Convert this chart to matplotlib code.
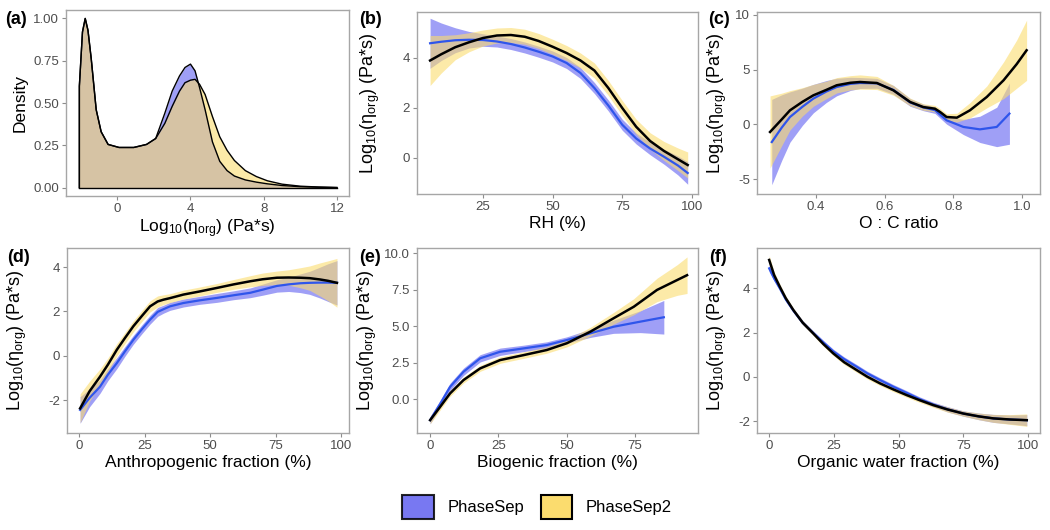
import numpy as np
import matplotlib
matplotlib.use("Agg")
import matplotlib.pyplot as plt
from matplotlib.patches import Patch

plt.rcParams.update({
    "font.family": ["Liberation Sans", "DejaVu Sans"],
    "mathtext.default": "regular",
    "axes.unicode_minus": False,
    "font.size": 11})

BLUE_FILL = "#6060F0"
YELLOW_FILL = "#FBDC6E"
BLUE_LINE = "#2F55EB"
TICK_GREY = "#4D4D4D"
YLAB = r"Log$_{10}$(η$_{org}$) (Pa*s)"

# (a) density of log10 viscosity
dens_x = [-2.07, -1.9, -1.75, -1.6, -1.42, -1.15, -0.88, -0.5, 0.1, 0.9, 1.6, 2.1,
          2.6, 3.0, 3.4, 3.7, 4.0, 4.25, 4.5, 4.8, 5.2, 5.6, 6.0, 6.4, 7.0, 7.6,
          8.2, 9.0, 10.0, 11.0, 12.0]
dens_ps = [0.60, 0.92, 1.00, 0.93, 0.76, 0.46, 0.33, 0.255, 0.237, 0.237, 0.255, 0.29,
           0.44, 0.57, 0.66, 0.71, 0.73, 0.69, 0.59, 0.46, 0.27, 0.155, 0.10, 0.068, 0.045, 0.032,
           0.022, 0.012, 0.005, 0.002, 0.0]
dens_ps2 = [0.60, 0.92, 1.00, 0.93, 0.76, 0.46, 0.33, 0.255, 0.237, 0.237, 0.255, 0.29,
            0.38, 0.48, 0.57, 0.62, 0.635, 0.64, 0.61, 0.55, 0.42, 0.30, 0.22, 0.16, 0.10, 0.065,
            0.04, 0.02, 0.008, 0.003, 0.0]

# (b) RH
rh_x = [6, 10, 15, 20, 25, 30, 35, 40, 45, 50, 55, 60, 65, 70, 75, 80, 85, 90, 95, 98.5]
rh_ps = [4.59, 4.65, 4.71, 4.73, 4.72, 4.66, 4.56, 4.42, 4.25, 4.06, 3.8, 3.4, 2.8, 2.1,
         1.33, 0.78, 0.38, 0.05, -0.3, -0.6]
rh_ps_se = [1.0, 0.75, 0.5, 0.33, 0.25, 0.22, 0.22, 0.22, 0.22, 0.22, 0.22, 0.22, 0.22,
            0.22, 0.22, 0.22, 0.25, 0.3, 0.38, 0.45]
rh_ps2 = [3.9, 4.15, 4.43, 4.63, 4.8, 4.9, 4.92, 4.85, 4.68, 4.45, 4.2, 3.9, 3.5, 2.8,
          2.0, 1.25, 0.68, 0.28, -0.05, -0.28]
rh_ps2_se = [1.0, 0.75, 0.5, 0.38, 0.32, 0.3, 0.3, 0.3, 0.3, 0.3, 0.3, 0.3, 0.3, 0.3,
             0.3, 0.3, 0.33, 0.38, 0.45, 0.52]

# (c) O:C ratio
oc_ps_x = [0.271, 0.30, 0.324, 0.36, 0.392, 0.43, 0.46, 0.50, 0.528, 0.577, 0.625, 0.674,
           0.712, 0.746, 0.78, 0.829, 0.877, 0.926, 0.963]
oc_ps = [-1.62, -0.3, 0.67, 1.6, 2.35, 3.0, 3.41, 3.7, 3.78, 3.75, 3.15, 2.0,
         1.55, 1.3, 0.37, -0.24, -0.46, -0.24, 0.98]
oc_ps_se = [3.9, 3.0, 2.3, 1.7, 1.3, 1.0, 0.8, 0.6, 0.5, 0.45, 0.4, 0.35,
            0.3, 0.3, 0.35, 0.7, 1.2, 1.8, 2.8]
oc_ps2_x = [0.266, 0.30, 0.324, 0.36, 0.392, 0.43, 0.46, 0.50, 0.528, 0.577, 0.625, 0.674,
            0.712, 0.746, 0.761, 0.78, 0.81, 0.848, 0.897, 0.946, 0.984, 1.013]
oc_ps2 = [-0.70, 0.45, 1.28, 2.05, 2.65, 3.15, 3.57, 3.8, 3.87, 3.78, 3.11, 2.04,
          1.58, 1.43, 1.13, 0.67, 0.61, 1.28, 2.5, 4.03, 5.5, 6.77]
oc_ps2_se = [3.3, 2.4, 1.8, 1.3, 1.0, 0.8, 0.7, 0.65, 0.65, 0.6, 0.45, 0.35,
             0.3, 0.3, 0.3, 0.3, 0.4, 0.7, 1.0, 1.68, 2.2, 2.75]

# (d) anthropogenic fraction
anth_x = [0.4, 4, 8, 11, 14.4, 17.5, 20.7, 24, 27.1, 30, 32.2, 34.7, 39.8, 46, 52.6, 59,
          65.3, 70, 75.5, 80, 84.4, 88, 92, 95, 98.4]
anth_ps = [-2.44, -1.9, -1.39, -0.85, -0.33, 0.2, 0.72, 1.2, 1.63, 1.98, 2.1, 2.23, 2.38,
           2.5, 2.61, 2.73, 2.84, 2.98, 3.15, 3.22, 3.27, 3.29, 3.3, 3.3, 3.29]
anth_ps_se = [0.6, 0.4, 0.3, 0.27, 0.25, 0.22, 0.2, 0.2, 0.2, 0.2, 0.18, 0.18, 0.18, 0.18,
              0.2, 0.2, 0.22, 0.25, 0.28, 0.32, 0.42, 0.52, 0.7, 0.85, 1.0]
anth_ps2 = [-2.37, -1.6, -0.94, -0.4, 0.27, 0.8, 1.33, 1.8, 2.23, 2.45, 2.53, 2.6, 2.76,
            2.9, 3.06, 3.22, 3.36, 3.45, 3.52, 3.53, 3.52, 3.5, 3.44, 3.38, 3.29]
anth_ps2_se = [0.65, 0.45, 0.35, 0.3, 0.28, 0.25, 0.25, 0.25, 0.25, 0.25, 0.22, 0.2, 0.2,
               0.2, 0.2, 0.22, 0.25, 0.28, 0.3, 0.35, 0.45, 0.55, 0.75, 0.9, 1.1]

# (e) biogenic fraction
bio_ps_x = [0, 3.7, 7.3, 12.2, 18.3, 25.6, 34.2, 42.7, 50, 58.6, 67.1, 76.9, 85.5]
bio_ps = [-1.42, -0.3, 0.86, 1.89, 2.81, 3.26, 3.49, 3.72, 4.06, 4.52, 4.97, 5.32, 5.62]
bio_ps_se = [0.25, 0.25, 0.25, 0.25, 0.25, 0.25, 0.22, 0.22, 0.22, 0.28, 0.45, 0.75, 1.15]
bio_ps2_x = [0, 3.7, 7.3, 12.2, 18.3, 25.6, 34.2, 42.7, 50, 58.6, 67.1, 74.5, 83, 90.4, 94]
bio_ps2 = [-1.42, -0.5, 0.41, 1.32, 2.12, 2.69, 3.03, 3.38, 3.84, 4.63, 5.55, 6.34, 7.49,
           8.17, 8.5]
bio_ps2_se = [0.25, 0.22, 0.2, 0.2, 0.2, 0.22, 0.22, 0.22, 0.25, 0.3, 0.4, 0.55, 0.8,
              1.05, 1.25]

# (f) organic water fraction
owf_x = [0.1, 2, 4.2, 6.5, 9.4, 13, 17.1, 21, 24.8, 29, 33.9, 38, 42.9, 48, 53.2, 58,
         63.4, 69, 75, 81, 86.6, 93, 99.5]
owf_ps = [4.9, 4.45, 4.0, 3.5, 3.0, 2.45, 1.98, 1.55, 1.15, 0.8, 0.45, 0.15, -0.15, -0.45,
          -0.73, -1.0, -1.25, -1.47, -1.66, -1.79, -1.88, -1.93, -1.96]
owf_ps_se = [0.15, 0.12, 0.1, 0.1, 0.1, 0.1, 0.1, 0.1, 0.1, 0.1, 0.1, 0.1, 0.1, 0.1, 0.1,
             0.1, 0.1, 0.12, 0.12, 0.15, 0.18, 0.2, 0.25]
owf_ps2 = [5.28, 4.6, 4.07, 3.55, 3.02, 2.45, 1.96, 1.48, 1.06, 0.66, 0.30, 0.0, -0.30,
           -0.57, -0.83, -1.05, -1.28, -1.48, -1.66, -1.79, -1.88, -1.93, -1.96]
owf_ps2_se = [0.2, 0.15, 0.12, 0.1, 0.1, 0.1, 0.1, 0.1, 0.1, 0.1, 0.1, 0.1, 0.1, 0.1, 0.1,
              0.1, 0.1, 0.12, 0.12, 0.15, 0.18, 0.22, 0.28]


def px_axes(fig, x0, y0, x1, y1):
    W, H = 1050, 530
    return fig.add_axes([x0 / W, 1 - y1 / H, (x1 - x0) / W, (y1 - y0) / H])


def style(ax, xlabel, ylabel, xlim, ylim, xticks, yticks, xfmt, yfmt, ylab_x, ysize=13):
    ax.set_xlim(xlim)
    ax.set_ylim(ylim)
    ax.set_xticks(xticks, [xfmt.format(v) for v in xticks])
    ax.set_yticks(yticks, [yfmt.format(v) for v in yticks])
    for s in ax.spines.values():
        s.set_color("#A6A6A6")
        s.set_linewidth(1.0)
    ax.tick_params(colors="#8C8C8C", labelcolor=TICK_GREY, labelsize=9.5,
                   length=3, width=0.8, pad=2)
    ax.set_xlabel(xlabel, fontsize=12.5, labelpad=2)
    ax.set_ylabel(ylabel, fontsize=ysize)
    ax.yaxis.set_label_coords(ylab_x, 0.5)


def panel(ax, x1, y1, se1, x2, y2, se2):
    x1_arr = np.asarray(x1)
    x2_arr = np.asarray(x2)
    ax.fill_between(x1_arr, np.asarray(y1) - se1, np.asarray(y1) + se1,
                    color=BLUE_FILL, alpha=0.6, linewidth=0)
    ax.plot(x1_arr, y1, color=BLUE_LINE, linewidth=1.6)
    ax.fill_between(x2_arr, np.asarray(y2) - se2, np.asarray(y2) + se2,
                    color=YELLOW_FILL, alpha=0.6, linewidth=0)
    ax.plot(x2_arr, y2, color="black", linewidth=1.8)


def plot(plot_file: str) -> None:
    fig = plt.figure(figsize=(10.5, 5.3), dpi=100)

    # (a)
    ax = px_axes(fig, 66, 10, 349, 196)
    x = np.asarray(dens_x)
    ax.fill_between(x, 0, dens_ps, color=BLUE_FILL, alpha=0.6, linewidth=0)
    ax.plot(np.r_[x[0], x, x[-1]], np.r_[0, dens_ps, 0], color="black", lw=1.0)
    ax.fill_between(x, 0, dens_ps2, color=YELLOW_FILL, alpha=0.6, linewidth=0)
    ax.plot(np.r_[x[0], x, x[-1]], np.r_[0, dens_ps2, 0], color="black", lw=1.0)
    ax.plot([x[0], x[-1]], [0, 0], color="black", lw=1.0)
    style(ax, YLAB, "Density", (-2.8, 12.66), (-0.05, 1.05), [0, 4, 8, 12],
          [0, 0.25, 0.5, 0.75, 1.0], "{:g}", "{:.2f}", -0.134, ysize=12.5)

    # (b)
    ax = px_axes(fig, 417, 12, 698, 194)
    panel(ax, rh_x, rh_ps, rh_ps_se, rh_x, rh_ps2, rh_ps2_se)
    style(ax, "RH (%)", YLAB, (1.3, 102.2), (-1.44, 5.84), [25, 50, 75, 100],
          [0, 2, 4], "{:g}", "{:g}", -0.125)

    # (c)
    ax = px_axes(fig, 757, 12, 1040, 194)
    panel(ax, oc_ps_x, oc_ps, oc_ps_se, oc_ps2_x, oc_ps2, oc_ps2_se)
    style(ax, "O : C ratio", YLAB, (0.228, 1.052), (-6.37, 10.27), [0.4, 0.6, 0.8, 1.0],
          [-5, 0, 5, 10], "{:.1f}", "{:g}", -0.1)

    # (d)
    ax = px_axes(fig, 67, 248, 349, 433)
    panel(ax, anth_x, anth_ps, anth_ps_se, anth_x, anth_ps2, anth_ps2_se)
    style(ax, "Anthropogenic fraction (%)", YLAB, (-4.6, 103), (-3.48, 4.86),
          [0, 25, 50, 75, 100], [-2, 0, 2, 4], "{:g}", "{:g}", -0.135)

    # (e)
    ax = px_axes(fig, 417, 248, 698, 433)
    panel(ax, bio_ps_x, bio_ps, bio_ps_se, bio_ps2_x, bio_ps2, bio_ps2_se)
    style(ax, "Biogenic fraction (%)", YLAB, (-4.8, 98), (-2.3, 10.36),
          [0, 25, 50, 75], [0, 2.5, 5, 7.5, 10], "{:g}", "{:.1f}", -0.135)

    # (f)
    ax = px_axes(fig, 757, 248, 1040, 433)
    panel(ax, owf_x, owf_ps, owf_ps_se, owf_x, owf_ps2, owf_ps2_se)
    style(ax, "Organic water fraction (%)", YLAB, (-4.6, 104.6), (-2.54, 5.82),
          [0, 25, 50, 75, 100], [-2, 0, 2, 4], "{:g}", "{:g}", -0.1)

    for lab, (px, py) in zip("abcdef", [(5, 19), (359, 20), (708, 20),
                                        (7, 257), (359, 257), (709, 257)]):
        fig.text(px / 1050, 1 - py / 530, f"({lab})", fontsize=13,
                 fontweight="bold", ha="left", va="center")

    handles = [Patch(facecolor=BLUE_FILL, alpha=0.85, edgecolor="black", linewidth=1.5),
               Patch(facecolor=YELLOW_FILL, alpha=1.0, edgecolor="black", linewidth=1.5)]
    leg = fig.legend(handles, ["PhaseSep", "PhaseSep2"], loc="center",
                     bbox_to_anchor=(537 / 1050, 1 - 507 / 530), ncol=2, frameon=False,
                     fontsize=12, handlelength=1.9, handleheight=1.9,
                     handletextpad=0.8, columnspacing=1.0)
    for h in leg.legend_handles:
        h.set_edgecolor("black")

    fig.savefig(plot_file, dpi=100)
    plt.close(fig)


def main() -> None:
    plot("out.png")


if __name__ == '__main__':
    main()
